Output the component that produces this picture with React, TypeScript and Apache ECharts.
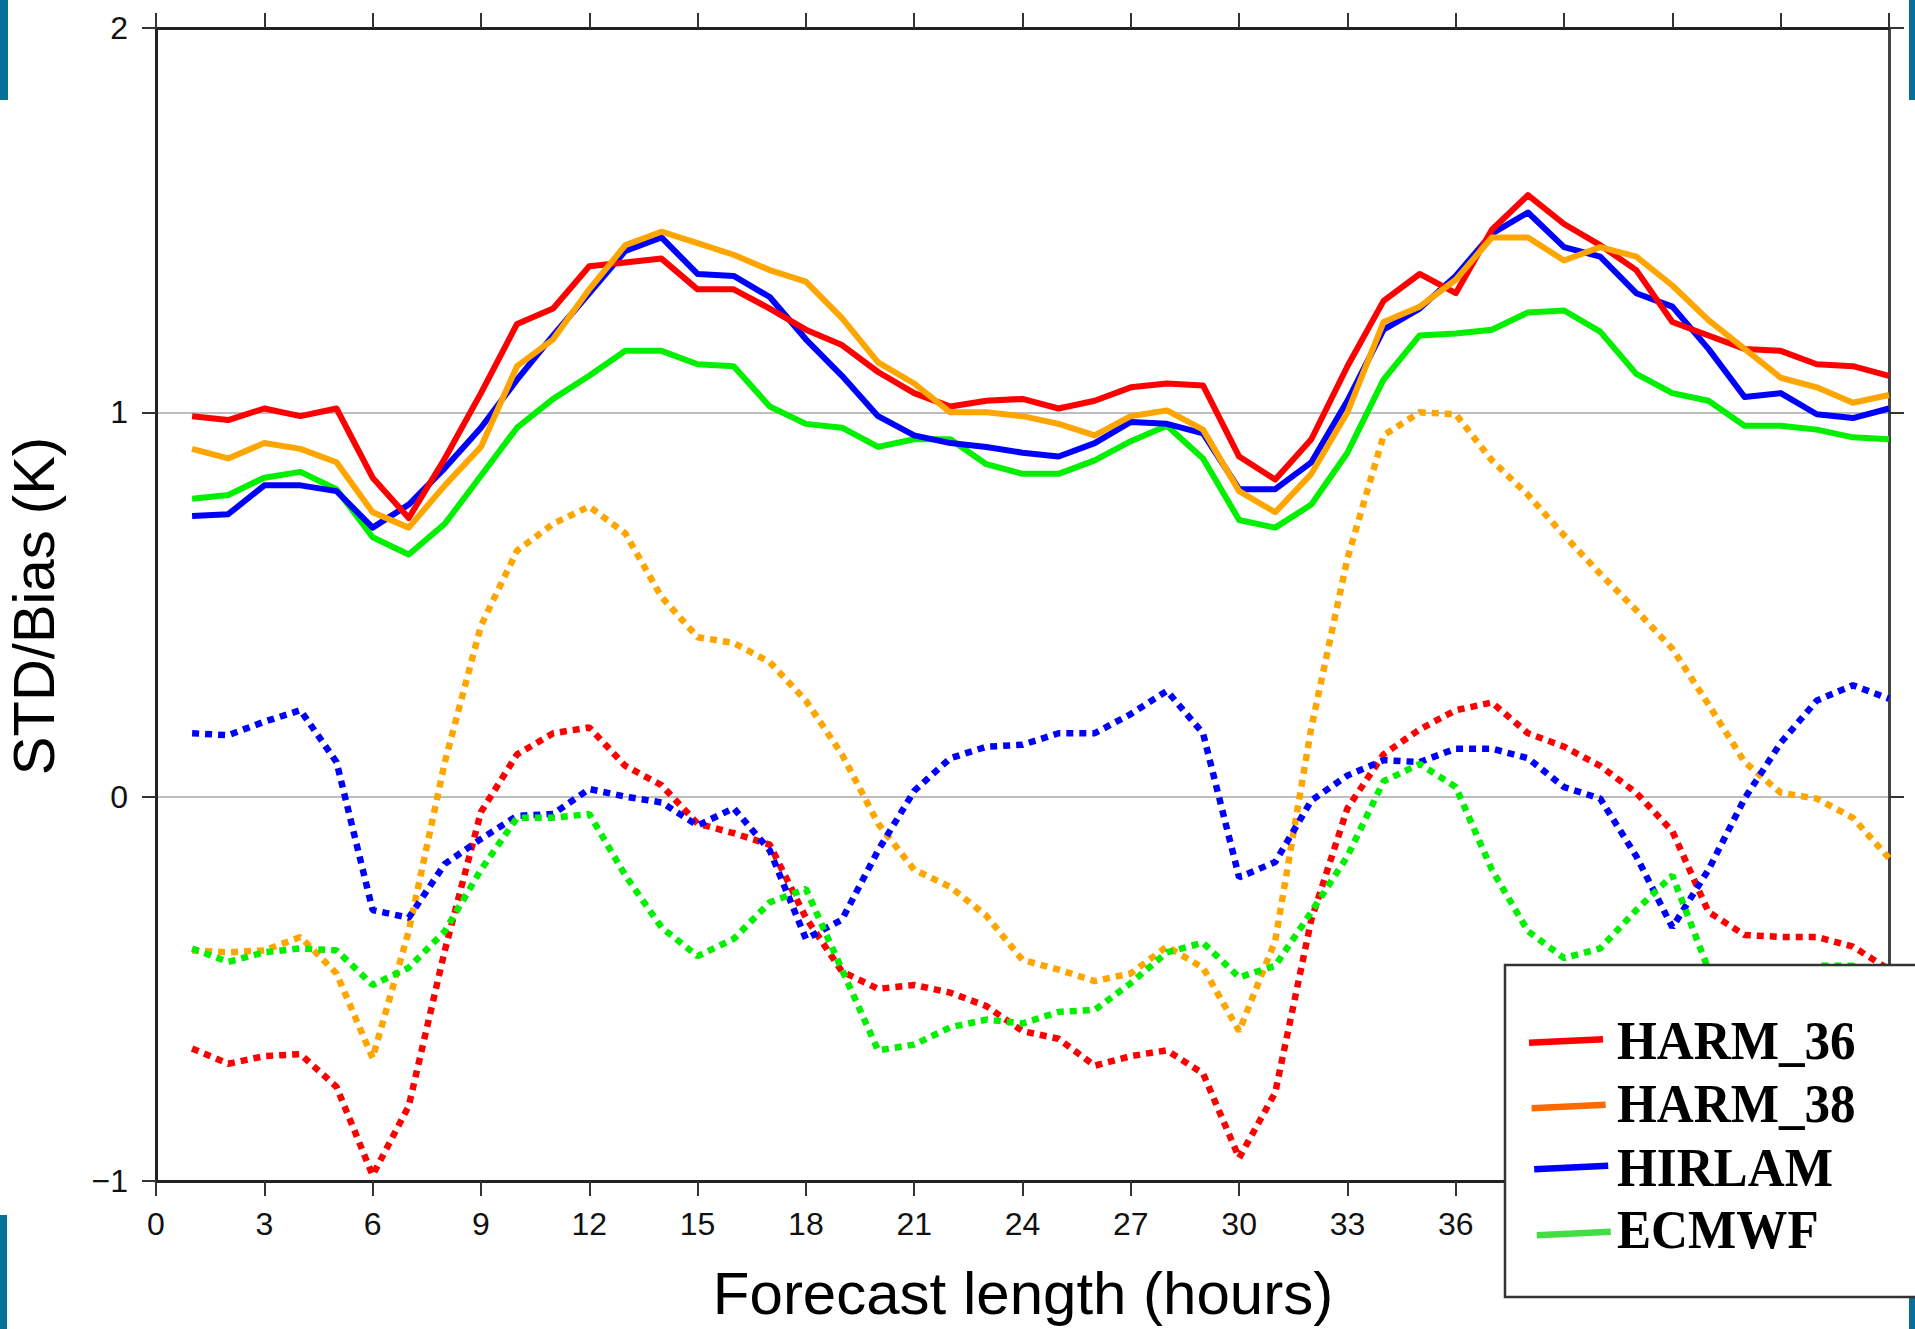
import React, { useEffect, useRef } from "react";
import * as echarts from "echarts";

// Forecast hours (x positions of every sample)
const hours = [
  1, 2, 3, 4, 5, 6, 7, 8, 9, 10, 11, 12, 13, 14, 15, 16, 17, 18, 19, 20, 21, 22, 23, 24,
  25, 26, 27, 28, 29, 30, 31, 32, 33, 34, 35, 36, 37, 38, 39, 40, 41, 42, 43, 44, 45, 46, 47, 48,
];

// Standard deviation (solid lines), K
const harm36Std = [
  0.99, 0.98, 1.01, 0.99, 1.01, 0.83, 0.725, 0.88, 1.05, 1.23, 1.27, 1.38, 1.39, 1.4, 1.32, 1.32,
  1.27, 1.215, 1.175, 1.105, 1.05, 1.015, 1.03, 1.035, 1.01, 1.03, 1.065, 1.075, 1.07, 0.885, 0.825, 0.93,
  1.12, 1.29, 1.36, 1.31, 1.475, 1.565, 1.49, 1.435, 1.37, 1.235, 1.2, 1.165, 1.16, 1.125, 1.12, 1.095,
];
const harm38Std = [
  0.905, 0.88, 0.92, 0.905, 0.87, 0.74, 0.7, 0.81, 0.91, 1.12, 1.19, 1.32, 1.435, 1.47, 1.44, 1.41,
  1.37, 1.34, 1.245, 1.13, 1.075, 1.0, 1.0, 0.99, 0.97, 0.94, 0.99, 1.005, 0.955, 0.795, 0.74, 0.84,
  1.0, 1.235, 1.275, 1.345, 1.455, 1.455, 1.395, 1.43, 1.405, 1.33, 1.24, 1.165, 1.09, 1.065, 1.025, 1.045,
];
const hirlamStd = [
  0.73, 0.735, 0.81, 0.81, 0.795, 0.7, 0.76, 0.855, 0.96, 1.085, 1.2, 1.31, 1.42, 1.455, 1.36, 1.355,
  1.3, 1.19, 1.095, 0.99, 0.94, 0.92, 0.91, 0.895, 0.885, 0.92, 0.975, 0.97, 0.945, 0.8, 0.8, 0.87,
  1.03, 1.215, 1.27, 1.355, 1.465, 1.52, 1.43, 1.405, 1.31, 1.275, 1.165, 1.04, 1.05, 0.995, 0.985, 1.01,
];
const ecmwfStd = [
  0.775, 0.785, 0.83, 0.845, 0.8, 0.675, 0.63, 0.71, 0.835, 0.96, 1.035, 1.095, 1.16, 1.16, 1.125, 1.12,
  1.015, 0.97, 0.96, 0.91, 0.93, 0.93, 0.865, 0.84, 0.84, 0.875, 0.925, 0.965, 0.88, 0.72, 0.7, 0.76,
  0.895, 1.085, 1.2, 1.205, 1.215, 1.26, 1.265, 1.21, 1.1, 1.05, 1.03, 0.965, 0.965, 0.955, 0.935, 0.93,
];

// Bias (dotted lines), K
const harm36Bias = [
  -0.655, -0.695, -0.675, -0.67, -0.755, -0.985, -0.805, -0.4, -0.04, 0.11, 0.165, 0.18, 0.08, 0.03, -0.07, -0.095,
  -0.125, -0.315, -0.455, -0.5, -0.49, -0.51, -0.545, -0.61, -0.63, -0.7, -0.675, -0.66, -0.72, -0.94, -0.77, -0.32,
  -0.03, 0.11, 0.175, 0.225, 0.245, 0.165, 0.13, 0.08, 0.01, -0.09, -0.3, -0.36, -0.365, -0.365, -0.39, -0.45,
];
const harm38Bias = [
  -0.4, -0.405, -0.4, -0.365, -0.46, -0.68, -0.35, 0.09, 0.445, 0.64, 0.71, 0.755, 0.685, 0.52, 0.415, 0.4,
  0.35, 0.25, 0.11, -0.07, -0.19, -0.235, -0.31, -0.425, -0.45, -0.48, -0.46, -0.39, -0.445, -0.61, -0.375, 0.18,
  0.62, 0.94, 1.0, 0.995, 0.875, 0.785, 0.68, 0.58, 0.485, 0.385, 0.24, 0.09, 0.01, -0.005, -0.055, -0.16,
];
const hirlamBias = [
  0.165, 0.16, 0.195, 0.225, 0.09, -0.295, -0.315, -0.175, -0.11, -0.05, -0.045, 0.02, 0.0, -0.015, -0.075, -0.03,
  -0.14, -0.37, -0.32, -0.14, 0.015, 0.1, 0.13, 0.135, 0.165, 0.165, 0.215, 0.275, 0.165, -0.21, -0.17, -0.01,
  0.055, 0.095, 0.09, 0.125, 0.125, 0.1, 0.025, -0.005, -0.155, -0.34, -0.19, -0.005, 0.14, 0.25, 0.29, 0.255,
];
const ecmwfBias = [
  -0.395, -0.43, -0.405, -0.395, -0.4, -0.49, -0.445, -0.35, -0.19, -0.055, -0.055, -0.045, -0.205, -0.34, -0.415, -0.37,
  -0.275, -0.24, -0.45, -0.66, -0.645, -0.6, -0.58, -0.59, -0.56, -0.555, -0.485, -0.405, -0.38, -0.47, -0.44, -0.3,
  -0.155, 0.04, 0.085, 0.025, -0.19, -0.35, -0.42, -0.395, -0.295, -0.205, -0.45, -0.58, -0.52, -0.44, -0.44, -0.47,
];

const models = ["HARM_36", "HARM_38", "HIRLAM", "ECMWF"];
const lineColors = ["#ff0000", "#ffa500", "#0000ff", "#00f000"];
const legendColors = ["#ff0000", "#ff6a00", "#0000ff", "#44dd44"];

const xTicks = { min: 0, max: 48, interval: 3 };
const yTicks = { min: -1, max: 2, interval: 1 };

const pairs = (vals: number[]) => hours.map((h, i) => [h, vals[i]]);

const SANS = "'Liberation Sans', Arial, Helvetica, sans-serif";
const SERIF = "'Liberation Serif', 'Times New Roman', serif";

export default function App() {
  const ref = useRef<HTMLDivElement>(null);

  useEffect(() => {
    if (!ref.current) return;
    const chart = echarts.init(ref.current, null, { renderer: "svg" });

    const stdSets = [harm36Std, harm38Std, hirlamStd, ecmwfStd];
    const biasSets = [harm36Bias, harm38Bias, hirlamBias, ecmwfBias];

    const biasSeries = biasSets.map((vals, i) => ({
      name: models[i] + " bias",
      type: "line",
      data: pairs(vals),
      showSymbol: false,
      symbol: "none",
      z: 2,
      lineStyle: { color: lineColors[i], width: 6.5, type: [7, 6], cap: "butt" },
    }));
    // drawing order of the solid lines: green, blue, red, orange on top
    const solidOrder = [3, 2, 0, 1];
    const stdSeries = solidOrder.map((i) => ({
      name: models[i] + " STD",
      type: "line",
      data: pairs(stdSets[i]),
      showSymbol: false,
      symbol: "none",
      z: 3,
      lineStyle: { color: lineColors[i], width: 6, join: "round" },
    }));

    const axisLine = { show: true, onZero: false, lineStyle: { color: "#222", width: 3 } };
    const axisTick = { show: true, inside: false, length: 15, lineStyle: { color: "#333", width: 2 } };

    // legend rows: sample line centre and text cap-middle
    const sampleRows = [1041, 1106.5, 1167.5, 1233.5];
    const textRows = [1040, 1103.5, 1167, 1229.5];
    const legendGraphics: any[] = [
      {
        type: "rect",
        z: 100,
        shape: { x: 1505, y: 965, width: 440, height: 332 },
        style: { fill: "#fff", stroke: "#333", lineWidth: 2.5 },
      },
    ];
    models.forEach((m, i) => {
      const y = sampleRows[i];
      const x0 = 1529 + i * 2.6;
      legendGraphics.push({
        type: "line",
        z: 101,
        shape: { x1: x0, y1: y + 1.7, x2: x0 + 74, y2: y - 1.7 },
        style: { stroke: legendColors[i], lineWidth: 6.5 },
      });
      legendGraphics.push({
        type: "text",
        z: 101,
        x: 1617,
        y: textRows[i],
        scaleX: 0.93,
        style: {
          text: m,
          x: 0,
          y: 0,
          fill: "#000",
          font: `bold 55px ${SERIF}`,
          align: "left",
          verticalAlign: "middle",
        },
      });
    });

    const corner = "#086f98";

    chart.setOption({
      animation: false,
      backgroundColor: "#ffffff",
      grid: { left: 156, right: 26, top: 28, bottom: 148, containLabel: false, outerBoundsMode: "none" },
      xAxis: [
        {
          type: "value",
          position: "bottom",
          ...xTicks,
          axisLine,
          axisTick,
          axisLabel: { fontSize: 32, color: "#111", margin: 27, fontFamily: SANS },
          splitLine: { show: false },
        },
        {
          type: "value",
          position: "top",
          ...xTicks,
          axisLine,
          axisTick,
          axisLabel: { show: false },
          splitLine: { show: false },
        },
      ],
      yAxis: [
        {
          type: "value",
          position: "left",
          ...yTicks,
          axisLine,
          axisTick: { ...axisTick, length: 14 },
          axisLabel: {
            fontSize: 32,
            color: "#111",
            margin: 28,
            fontFamily: SANS,
            formatter: (v: number) => (v < 0 ? "\u2212" + Math.abs(v) : String(v)),
          },
          splitLine: { show: true, lineStyle: { color: "#a8a8a8", width: 1.5 } },
        },
        {
          type: "value",
          position: "right",
          ...yTicks,
          axisLine: { ...axisLine, lineStyle: { color: "#444", width: 3 } },
          axisTick: { ...axisTick, length: 15 },
          axisLabel: { show: false },
          splitLine: { show: false },
        },
      ],
      series: [...biasSeries, ...stdSeries],
      graphic: [
        { type: "rect", shape: { x: 0, y: 0, width: 8, height: 100 }, style: { fill: corner } },
        { type: "rect", shape: { x: 1909, y: 0, width: 6, height: 100 }, style: { fill: corner } },
        { type: "rect", shape: { x: 0, y: 1215, width: 7, height: 114 }, style: { fill: corner } },
        { type: "rect", shape: { x: 1909, y: 1298, width: 6, height: 31 }, style: { fill: corner } },
        {
          type: "text",
          x: 33,
          y: 606,
          rotation: Math.PI / 2,
          style: {
            text: "STD/Bias (K)",
            fill: "#000",
            font: `58px ${SANS}`,
            lineHeight: 58,
            align: "center",
            verticalAlign: "middle",
          },
        },
        {
          type: "text",
          x: 1023,
          y: 1293,
          style: {
            text: "Forecast length (hours)",
            fill: "#000",
            font: `60px ${SANS}`,
            align: "center",
            verticalAlign: "middle",
          },
        },
        ...legendGraphics,
      ],
    });

    return () => chart.dispose();
  }, []);

  return (
    <div
      ref={ref}
      style={{ position: "fixed", left: 0, top: 0, width: 1915, height: 1329, background: "#fff" }}
    />
  );
}
